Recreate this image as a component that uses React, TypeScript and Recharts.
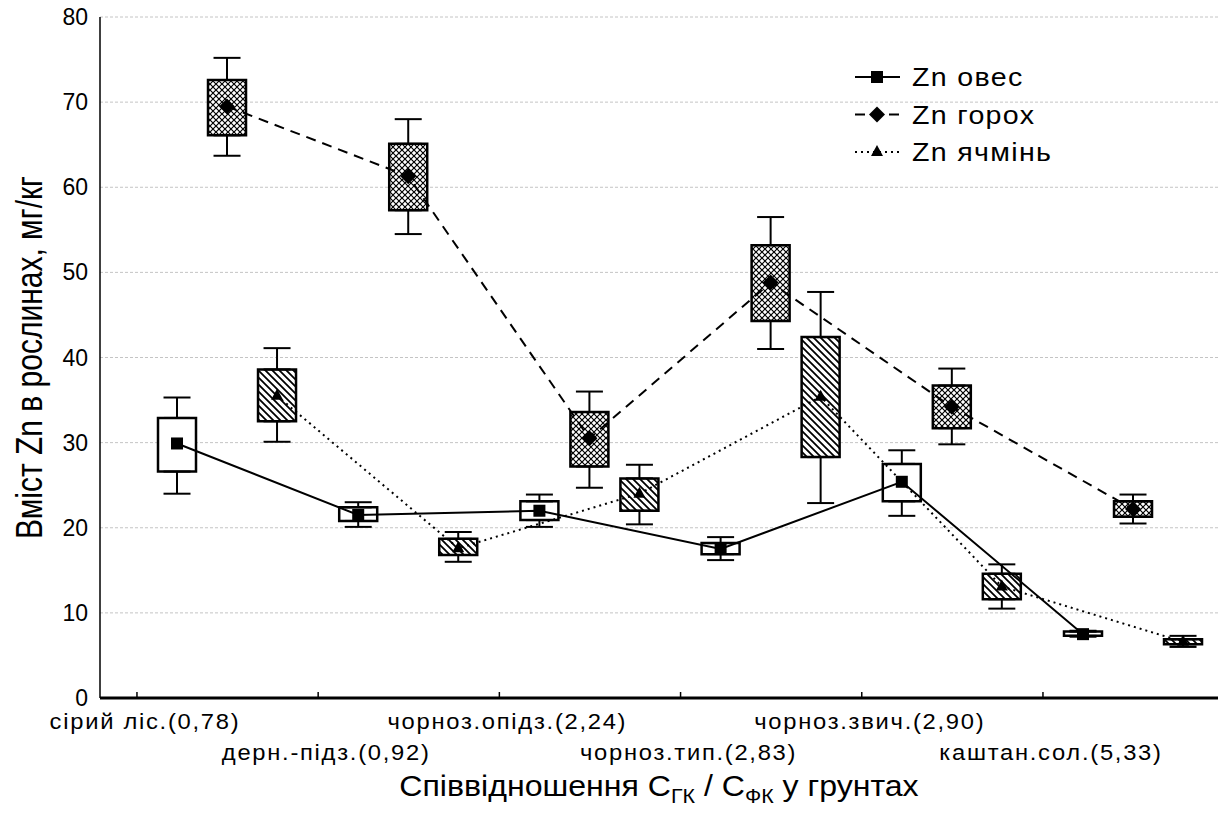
import React from 'react';
import { ComposedChart, XAxis, YAxis, CartesianGrid, Bar, Cell, Line, Scatter, ErrorBar, Legend } from 'recharts';

const FONT = '"Liberation Sans", Arial, sans-serif';

// categories (soil type and C_GK / C_FK ratio)
const categories = [
  'сірий ліс.(0,78)',
  'дерн.-підз.(0,92)',
  'чорноз.опідз.(2,24)',
  'чорноз.тип.(2,83)',
  'чорноз.звич.(2,90)',
  'каштан.сол.(5,33)',
];
const seriesNames = ['Zn овес', 'Zn горох', 'Zn ячмінь'];
const yTicks = [0, 10, 20, 30, 40, 50, 60, 70, 80];
const xTicks = [0, 1, 2, 3, 4, 5];

// Zn овес
const oatMin = [24.0, 20.1, 20.1, 16.2, 21.4, 7.2];
const oatQ1 = [26.6, 20.8, 20.9, 16.9, 23.1, 7.3];
const oatMean = [29.9, 21.5, 22.0, 17.5, 25.4, 7.5];
const oatQ3 = [32.9, 22.4, 23.1, 18.2, 27.5, 7.8];
const oatMax = [35.3, 23.0, 23.9, 18.9, 29.1, 7.9];

// Zn горох
const peaMin = [63.7, 54.5, 24.7, 41.0, 29.8, 20.5];
const peaQ1 = [66.1, 57.3, 27.2, 44.3, 31.7, 21.3];
const peaMean = [69.5, 61.3, 30.5, 48.8, 34.2, 22.2];
const peaQ3 = [72.6, 65.1, 33.6, 53.2, 36.7, 23.1];
const peaMax = [75.2, 68.0, 36.0, 56.5, 38.7, 23.9];

// Zn ячмінь
const barleyMin = [30.1, 16.0, 20.4, 22.9, 10.5, 6.0];
const barleyQ1 = [32.5, 16.8, 22.0, 28.3, 11.6, 6.3];
const barleyMean = [35.5, 17.6, 24.0, 35.4, 13.1, 6.6];
const barleyQ3 = [38.6, 18.7, 25.8, 42.4, 14.6, 6.9];
const barleyMax = [41.1, 19.5, 27.4, 47.7, 15.7, 7.3];

const X_DOMAIN: [number, number] = [-0.204, 5.966];
const GROUP_OFFSETS = [0.221, 0.497, 0.773];

type Row = {
  x: number; crop: number; min: number; q1: number; mean: number; q3: number; max: number;
  box: [number, number]; up: [number, number]; down: [number, number];
};

function buildRows(crop: number, mins: number[], q1s: number[], means: number[], q3s: number[], maxs: number[]): Row[] {
  return categories.map((_, i) => ({
    x: i + GROUP_OFFSETS[crop],
    crop,
    min: mins[i], q1: q1s[i], mean: means[i], q3: q3s[i], max: maxs[i],
    box: [q1s[i], q3s[i]],
    up: [0, maxs[i] - q3s[i]],
    down: [q1s[i] - mins[i], 0],
  }));
}

const oatRows = buildRows(0, oatMin, oatQ1, oatMean, oatQ3, oatMax);
const peaRows = buildRows(1, peaMin, peaQ1, peaMean, peaQ3, peaMax);
const barleyRows = buildRows(2, barleyMin, barleyQ1, barleyMean, barleyQ3, barleyMax);
const allRows = [...oatRows, ...peaRows, ...barleyRows].sort((a, b) => a.x - b.x);

const BOX_FILLS = ['#ffffff', 'url(#checkPat)', 'url(#hatchPat)'];
const LINE_DASH = [undefined, '10 7', '2 4'];

const Marker = ({ kind, cx, cy }: { kind: number; cx: number; cy: number }) => {
  if (kind === 0) return <rect x={cx - 6} y={cy - 6} width={12} height={12} fill="#000" />;
  if (kind === 1) return <path d={`M${cx},${cy - 8}L${cx + 8},${cy}L${cx},${cy + 8}L${cx - 8},${cy}Z`} fill="#000" />;
  return <path d={`M${cx},${cy - 7}L${cx + 6},${cy + 4}L${cx - 6},${cy + 4}Z`} fill="#000" />;
};

const makeDot = (kind: number) => (p: any) => (
  <Marker key={`m${kind}-${p.index}`} kind={kind} cx={p.cx} cy={p.cy} />
);

const Empty = () => <g />;

const XTick = (props: any) => {
  const { x, y, payload } = props;
  const i = Math.round(payload.value);
  const row = i % 2;
  return (
    <g>
      <line x1={x} x2={x} y1={y} y2={y - 6} stroke="#000" strokeWidth={1.5} />
      <text
        transform={`translate(${x + 8},${y + 31 + row * 31}) scale(1.08,1)`}
        textAnchor="middle"
        fontSize={22}
        letterSpacing={1.6}
        fontFamily={FONT}
        fill="#000"
      >
        {categories[i]}
      </text>
    </g>
  );
};

const TopTick = (props: any) => {
  const { x, y } = props;
  return <line x1={x} x2={x} y1={y} y2={y + 6} stroke="#000" strokeWidth={1.5} />;
};

const RightTick = (props: any) => {
  const { x, y } = props;
  return <line x1={x - 6} x2={x} y1={y} y2={y} stroke="#000" strokeWidth={1.5} />;
};

const YTick = (props: any) => {
  const { x, y, payload } = props;
  return (
    <text x={x - 12} y={y + 8} textAnchor="end" fontSize={23} fontFamily={FONT} fill="#000">
      {payload.value}
    </text>
  );
};

const XTitle = (props: any) => {
  const vb = props.viewBox || { x: 100, y: 698, width: 1118 };
  const cx = vb.x + vb.width / 2;
  return (
    <text
      transform={`translate(${cx},${vb.y + 98}) scale(1.07,1)`}
      textAnchor="middle"
      fontSize={30}
      fontFamily={FONT}
      fill="#000"
    >
      <tspan>Співвідношення C</tspan>
      <tspan fontSize={20} dx={0} dy={7}>ГК</tspan>
      <tspan dy={-7}> / C</tspan>
      <tspan fontSize={20} dy={7}>ФК</tspan>
      <tspan dy={-7}> у грунтах</tspan>
    </text>
  );
};

const YTitle = (props: any) => {
  const vb = props.viewBox || { x: 0, y: 17, width: 100, height: 681 };
  const cy = vb.y + vb.height / 2;
  return (
    <text
      transform={`translate(42,${cy}) scale(1.2,1) rotate(-90)`}
      textAnchor="middle"
      fontSize={30}
      fontFamily={FONT}
      fill="#000"
    >
      Вміст Zn в рослинах, мг/кг
    </text>
  );
};

const LegendBox = () => (
  <svg width={240} height={115} style={{ display: 'block', overflow: 'visible' }}>
    {seriesNames.map((name, k) => {
      const cy = 18 + k * 37.5;
      return (
        <g key={name}>
          <line x1={4} x2={49} y1={cy} y2={cy} stroke="#000" strokeWidth={2} strokeDasharray={LINE_DASH[k]} />
          <Marker kind={k} cx={26} cy={cy} />
          <text
            transform={`translate(61,${cy + 9}) scale(1.1,1)`}
            fontSize={26}
            letterSpacing={1.2}
            fontFamily={FONT}
            fill="#000"
          >
            {name}
          </text>
        </g>
      );
    })}
  </svg>
);

export default function App() {
  return (
    <div style={{ width: 1223, height: 827, position: 'relative', background: '#fff' }}>
      <style>{'body{margin:0;background:#fff}'}</style>
      <svg width={0} height={0} style={{ position: 'absolute' }}>
        <defs>
          <pattern id="checkPat" width={6} height={6} patternUnits="userSpaceOnUse">
            <rect width={6} height={6} fill="#fff" />
            <path d="M0,0L6,6M6,0L0,6" stroke="#000" strokeWidth={1.2} />
          </pattern>
          <pattern id="hatchPat" width={7} height={7} patternUnits="userSpaceOnUse">
            <rect width={7} height={7} fill="#fff" />
            <path d="M0,0L7,7M-1,6L1,8M6,-1L8,1" stroke="#000" strokeWidth={1.8} />
          </pattern>
        </defs>
      </svg>
      <ComposedChart
        width={1223}
        height={827}
        data={allRows}
        margin={{ top: 17, right: 5, left: 0, bottom: 0 }}
      >
        <CartesianGrid vertical={false} stroke="#c4c4c4" strokeDasharray="3 2" strokeWidth={1} />
        <XAxis
          dataKey="x"
          type="number"
          domain={X_DOMAIN}
          allowDataOverflow
          ticks={xTicks}
          interval={0}
          height={129}
          tickSize={0}
          tickMargin={0}
          tickLine={false}
          axisLine={{ stroke: '#000', strokeWidth: 3 }}
          tick={<XTick />}
          label={<XTitle />}
        />
        <XAxis
          xAxisId="top"
          orientation="top"
          dataKey="x"
          type="number"
          domain={X_DOMAIN}
          allowDataOverflow
          ticks={xTicks}
          interval={0}
          height={0}
          tickSize={0}
          tickMargin={0}
          tickLine={false}
          axisLine={{ stroke: '#000', strokeWidth: 2 }}
          tick={<TopTick />}
        />
        <YAxis
          type="number"
          domain={[0, 80]}
          allowDataOverflow
          ticks={yTicks}
          interval={0}
          width={100}
          tickSize={0}
          tickMargin={0}
          tickLine={false}
          axisLine={{ stroke: '#000', strokeWidth: 1.5 }}
          tick={<YTick />}
          label={<YTitle />}
        />
        <YAxis
          yAxisId="right"
          orientation="right"
          type="number"
          domain={[0, 80]}
          allowDataOverflow
          ticks={yTicks}
          interval={0}
          width={0}
          tickSize={0}
          tickMargin={0}
          tickLine={false}
          axisLine={{ stroke: '#000', strokeWidth: 1.5 }}
          tick={<RightTick />}
        />
        <Bar dataKey="box" barSize={38} stroke="#000" strokeWidth={2.5} isAnimationActive={false}>
          {allRows.map((r, i) => (
            <Cell key={`c${i}`} fill={BOX_FILLS[r.crop]} />
          ))}
        </Bar>
        <Scatter data={allRows} dataKey="q3" shape={<Empty />} isAnimationActive={false}>
          <ErrorBar dataKey="up" width={13.5} stroke="#000" strokeWidth={2} direction="y" />
        </Scatter>
        <Scatter data={allRows} dataKey="q1" shape={<Empty />} isAnimationActive={false}>
          <ErrorBar dataKey="down" width={13.5} stroke="#000" strokeWidth={2} direction="y" />
        </Scatter>
        <Line data={oatRows} dataKey="mean" type="linear" stroke="#000" strokeWidth={2} dot={makeDot(0)} activeDot={false} isAnimationActive={false} />
        <Line data={peaRows} dataKey="mean" type="linear" stroke="#000" strokeWidth={2} strokeDasharray={LINE_DASH[1]} dot={makeDot(1)} activeDot={false} isAnimationActive={false} />
        <Line data={barleyRows} dataKey="mean" type="linear" stroke="#000" strokeWidth={2} strokeDasharray={LINE_DASH[2]} dot={makeDot(2)} activeDot={false} isAnimationActive={false} />
        <Legend
          layout="vertical"
          align="center"
          verticalAlign="middle"
          content={<LegendBox />}
          wrapperStyle={{ left: 851, top: 59, width: 240, height: 115 }}
        />
      </ComposedChart>
    </div>
  );
}
